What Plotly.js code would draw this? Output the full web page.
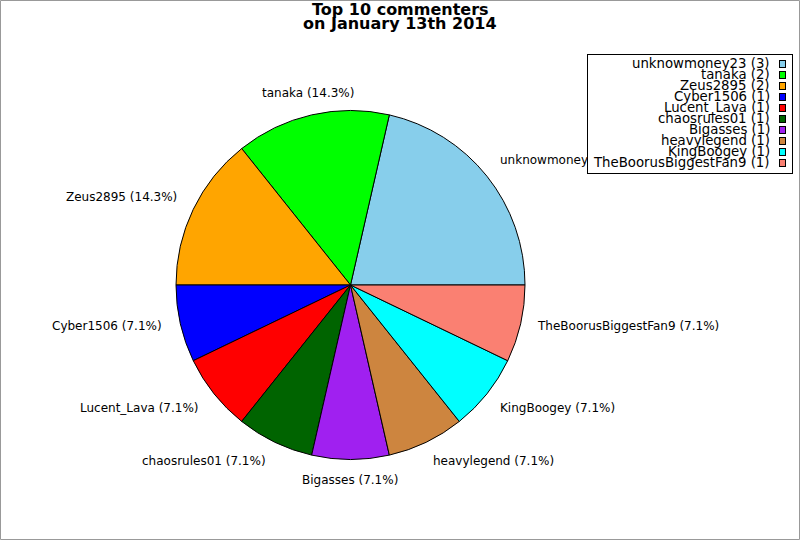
<!DOCTYPE html>
<html>
<head>
<meta charset="utf-8">
<script src="https://cdn.plot.ly/plotly-3.0.1.min.js"></script>
<style>
  body { margin: 0; background: #fff; }
  #chart { width: 800px; height: 540px; }
</style>
</head>
<body>
<div id="chart"></div>
<script>
const titleLines = ["Top 10 commenters", "on January 13th 2014"];
const names = [
  "unknowmoney23", "tanaka", "Zeus2895", "Cyber1506", "Lucent_Lava",
  "chaosrules01", "Bigasses", "heavylegend", "KingBoogey", "TheBoorusBiggestFan9"
];
const counts = [3, 2, 2, 1, 1, 1, 1, 1, 1, 1];
const colors = [
  "#87ceeb", "#00ff00", "#ffa500", "#0000ff", "#ff0000",
  "#006400", "#a020f0", "#cd853f", "#00ffff", "#fa8072"
];

const W = 800, H = 540;
// pie box in pixels
const cx = 350.5, cy = 285, r = 174.5;
const labelR = r * 1.1;
const font = "DejaVu Sans, sans-serif";

const total = counts.reduce((a, b) => a + b, 0);

// plotly lays the first ccw slice ending at `rotation`, so shift it back
// so the first slice starts at 3 o'clock
const rotation = 90 - (counts[0] / total) * 360;

const pie = {
  type: "pie",
  values: counts,
  labels: names,
  sort: false,
  direction: "counterclockwise",
  rotation: rotation,
  textinfo: "none",
  hoverinfo: "label+value+percent",
  showlegend: false,
  marker: { colors: colors, line: { color: "#000", width: 1 } },
  domain: {
    x: [(cx - r) / W, (cx + r) / W],
    y: [(H - cy - r) / H, (H - cy + r) / H]
  }
};

const annotations = [];

// slice labels, placed from each slice's mid angle
let acc = 0;
counts.forEach((c, i) => {
  const mid = ((acc + c / 2) / total) * 2 * Math.PI;
  acc += c;
  const cos = Math.cos(mid), sin = Math.sin(mid);
  const px = cx + labelR * cos;
  const py = cy - labelR * sin;
  let xanchor = "center", xshift = 0;
  if (Math.abs(cos) >= 0.3) {
    xanchor = cos > 0 ? "left" : "right";
    xshift = cos > 0 ? -3 : 1;
  }
  let yshift = sin > 0 ? 5 : (sin > -0.4 ? 2 : -3);
  const pct = ((c / total) * 100).toFixed(1);
  annotations.push({
    xref: "paper", yref: "paper",
    x: px / W, y: (H - py) / H,
    xanchor: xanchor, yanchor: "middle", xshift: xshift, yshift: yshift,
    text: names[i] + " (" + pct + "%)",
    showarrow: false,
    font: { family: font, size: 12, color: "#000" }
  });
});

// title, two lines
titleLines.forEach((t, i) => {
  annotations.push({
    xref: "paper", yref: "paper",
    x: 400 / W, y: (H - (10 + 14 * i)) / H,
    xanchor: "center", yanchor: "middle",
    text: "<b>" + t + "</b>",
    showarrow: false,
    font: { family: font, size: 16, color: "#000" }
  });
});

// legend box (drawn over the slice labels)
annotations.push({
  xref: "paper", yref: "paper",
  x: 587 / W, y: (H - 54) / H,
  xanchor: "left", yanchor: "top",
  text: " ", width: 204, height: 118,
  bgcolor: "#fff", bordercolor: "#000", borderwidth: 1, borderpad: 0,
  showarrow: false
});

names.forEach((n, i) => {
  const rowY = 64 + 11 * i;
  annotations.push({
    xref: "paper", yref: "paper",
    x: 772 / W, y: (H - rowY) / H,
    xanchor: "right", yanchor: "middle",
    text: n + " (" + counts[i] + ")",
    showarrow: false,
    font: { family: font, size: 13.3, color: "#000" }
  });
  annotations.push({
    xref: "paper", yref: "paper",
    x: 782 / W, y: (H - rowY) / H,
    xanchor: "center", yanchor: "middle",
    text: " ", width: 5, height: 6,
    bgcolor: colors[i], bordercolor: "#000", borderwidth: 1, borderpad: 0,
    showarrow: false,
    font: { size: 4 }
  });
});

const layout = {
  width: W,
  height: H,
  margin: { l: 0, r: 0, t: 0, b: 0 },
  paper_bgcolor: "#fff",
  font: { family: font, color: "#000" },
  annotations: annotations,
  shapes: [{
    type: "rect", xref: "paper", yref: "paper",
    x0: 0.5 / W, x1: (W - 0.5) / W, y0: 0.5 / H, y1: (H - 0.5) / H,
    line: { color: "#999", width: 1 }
  }]
};

Plotly.newPlot("chart", [pie], layout, { displayModeBar: false, staticPlot: true });
</script>
</body>
</html>
